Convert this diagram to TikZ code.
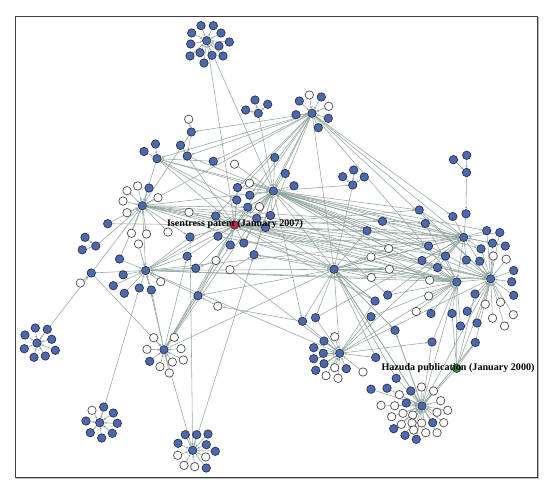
\documentclass[tikz,border=0pt]{standalone}
\usepackage{fontspec}
\setmainfont{Liberation Serif}
\usetikzlibrary{arrows.meta}
\definecolor{nblue}{HTML}{4A69B4}
\definecolor{edgec}{HTML}{93A69F}
\definecolor{nred}{HTML}{D8204C}
\definecolor{ngreen}{HTML}{3A9A3A}
\pgfdeclarelayer{bg}
\pgfsetlayers{bg,main}
\tikzset{
 nd/.style={circle, minimum size=8.4pt, inner sep=0pt, line width=0.7pt, draw=black!80},
 bn/.style={nd, fill=nblue},
 wn/.style={nd, fill=white, draw=black!70},
 ed/.style={draw=edgec, line width=0.55pt, -{Stealth[length=2.6pt,width=2.2pt]}},
 lab/.style={font=\fontsize{10.1}{11}\selectfont\bfseries, inner sep=0pt},
}
\begin{document}
\begin{tikzpicture}[x=1pt,y=-1pt]
\useasboundingbox (0,0) rectangle (545,486);
\draw[gray!55, line width=2pt] (538,17) -- (538,478) -- (16,478);
\draw[black!75, line width=0.9pt] (15,16) rectangle (537,477);
% blue nodes
\foreach \n/\x/\y in {t0/206.7/40.7, t1/201/25.7, t2/213.3/25.7, t3/191.7/33, t4/221/33, t5/229.3/42, t6/190.7/44, t7/219/46, t8/200/52.7, t9/212/55.3, t10/190/56, t11/223/56, t12/204/63,
 s0/258.3/113.3, s1/255/100, s2/245.7/110, s3/267.7/104.3,
 c0/312/113.3, c2/321.3/97, c3/299.3/101, c5/296/114.7, c6/328.3/118.3, c7/318.3/127.7,
 a2/191.3/132, a3/180.5/145.3, a4/187.2/156, a5/213.3/161.3,
 l3/157/158.7, l3a/155.5/144, l3b/144/151.5,
 l1/142.3/205.7, l1a/149/188, b1/107.7/223.7, b3/215.7/216,
 h/273.3/191, h1/274.7/157.5, h2/285.3/173.5, h3/294/185.8,
 d1/237.5/187.5, d3/249.8/195.2, d4/236.7/200, d5/247.8/207.2, d7/270.5/215.5, d8/256.7/218.3, d9/265.5/227.5,
 e5/190/237, e6/218/236.2, e7/230.3/245, e8/243.8/243, e9/254/254.7, e12/187.2/256.2, e13/195.7/268.2,
 f1/85/237.3, f2/82.2/249.8, f3/95.8/246, f4/119.5/259, f5/91.3/273, f7/123.2/274.8, f8/113.3/285.7, f9/124.3/293.3, l2/145.7/270.5, f10/139.3/288, f11/151.3/290,
 g1/198/295.7, p0/164/349.8, p5/149.7/361.3,
 q0/37/343, q1/35.3/328, q2/47.3/329.3, q3/25/335, q4/51.7/339.3, q5/24.3/348.7, q6/55.3/350.3, q7/34/357.3, q8/45.3/356,
 u0/99.7/422.7, u2/103.7/407, u3/113.3/413, u4/86/421, u5/117.3/423.3, u6/90.3/432.7, u7/101.7/438, u8/112.3/433.3,
 v0/192.7/450.3, v1/185.3/434.7, v2/196.7/434.7, v3/208/434, v4/178/443.3, v5/206.3/444.7, v6/215.3/451.3, v11/206.3/468,
 m/334/269.3, k1/367/230.7, k2/382.5/221.3,
 s20/352.7/185, s21/353.7/170, s22/342.7/176.7, s23/364.3/177,
 o1/302.5/321.3, o2/315.5/317.7, o3/375/301, o4/387.7/295, o5/371/316.7, o6/395/330.3, o8/431/313.5, o9/452/313.5, o10/467.2/311.3, o11/460.5/326, o12/477/323, o13/432/342, o14/475.3/342.5,
 r1/453.5/159.7, r2/466.7/155.3, r3/466.5/172.5, r4/466/213.8, r5/452.8/216.5, ra/463.7/237.3, r6/419.2/210, r7/425.3/223.5, r8/486.7/230.7, r9/499.8/232.5, r10/492.5/243.2, r11/505.3/246, r12/481/248.8, r13/428.5/246, r14/445.5/256, r15/422/260.5, r16/437.5/267.5, r17/466.3/260, r18/479.7/261.2, r21/513.7/270.5, r22/511.7/281.8, r23/513.7/295.3, rb/456.8/282, rc/490.7/278.8, r26/475/294,
 k0/339.7/353.3, ka/324/341, kc/313.7/347.7, kd/323.3/353.3, ke/313.7/358.7, kf/324/363.7, kg/315.7/370.3, ki/346.3/368.7,
 x1/375.7/357.5, x3/396.2/378.3,
 w0/422/406, w1/371/389.2, w2/387/388.2, w3/410.8/391, w9/406.3/403, w16/432.7/422.7, w21/393.7/428.7, w22/405/435.3, w23/416.3/439.3}
 \node[bn] (\n) at (\x,\y) {};
% white nodes
\foreach \n/\x/\y in {c1/309.3/95, c4/328.7/106.3, a1/188.7/119.3, a6/234.5/164.2,
 l1b/137.7/186, l1c/127/190.7, l1d/123/201, l1e/127/212.7, l1f/158/197.7, b2/189/212.3,
 d2/249.5/183.2, d6/259.5/206.7,
 e1/168/232, e2/131.5/233.3, e3/146.5/234, e4/138.5/244, e10/230/269.7, e11/216/260.5,
 f6/80.3/283, f12/160.7/281.7, g2/217.8/306.2,
 p1/153.7/337.7, p2/174.3/337.3, p3/147/349.3, p4/181/348.7, p6/160/366.7, p7/172.3/362, p8/183.3/360, p9/169.3/373,
 u1/92/410.3, v7/177.7/455.3, v8/205.7/457, v9/184/465.3, v10/194.7/466.7,
 k3/388.7/248.5, k4/371/257, k5/389.3/269.3, k6/371.3/277.5, o7/416.2/311.5,
 r19/493.2/256, r20/506.2/259.2, r24/429.7/280.2, r25/428.7/296, r27/485.3/304.2, r28/500.5/302.2, r29/513.3/314.7, r30/492.5/318.2, r31/504.5/326,
 kb/334.7/336.7, kh/334.7/367.7, kj/326/375.7, kk/338/378.3, x2/363/372,
 w4/421.5/387, w5/433.5/391, w6/399.3/394.7, w7/381/405.3, w8/394.7/405.7, w10/440.7/400.7, w11/437/412.3, w12/447.7/410.3, w13/391.7/416.7, w14/403/413.3, w15/412.7/415, w17/443.7/422.7, w18/401.3/424.3, w19/412/423, w20/421.7/423, w24/413.7/430, w25/425.7/432.7, w26/437/432.7}
 \node[wn] (\n) at (\x,\y) {};
\node[nd, fill=nred] (I) at (234.5,225) {};
\node[nd, fill=ngreen] (Z) at (456.7,368.3) {};
\begin{pgfonlayer}{bg}
% star edges
\foreach \a/\b in {t1/t0,t2/t0,t3/t0,t4/t0,t5/t0,t6/t0,t7/t0,t8/t0,t9/t0,t10/t0,t11/t0,t12/t0,
 s1/s0,s2/s0,s3/s0, c1/c0,c2/c0,c3/c0,c4/c0,c5/c0,c6/c0,c7/c0,
 a1/a2,a2/a4,a3/a4, l3a/l3,l3b/l3, l1a/l1,l1b/l1,l1c/l1,l1d/l1,l1e/l1,l1f/l1,
 h1/h,h2/h,h3/h, s21/s20,s22/s20,s23/s20, r1/r3,r2/r3,r3/r4,r4/ra,r5/ra,
 p1/p0,p2/p0,p3/p0,p4/p0,p5/p0,p6/p0,p7/p0,p8/p0,p9/p0,
 q1/q0,q2/q0,q3/q0,q4/q0,q5/q0,q6/q0,q7/q0,q8/q0,
 u1/u0,u2/u0,u3/u0,u4/u0,u5/u0,u6/u0,u7/u0,u8/u0,
 v1/v0,v2/v0,v3/v0,v4/v0,v5/v0,v6/v0,v7/v0,v8/v0,v9/v0,v10/v0,v11/v0,
 ka/k0,kb/k0,kc/k0,kd/k0,ke/k0,kf/k0,kg/k0,kh/k0,ki/k0,kj/k0,kk/k0,
 w1/w0,w2/w0,w3/w0,w4/w0,w5/w0,w6/w0,w7/w0,w8/w0,w9/w0,w10/w0,w11/w0,w12/w0,w13/w0,w14/w0,w15/w0,w16/w0,w17/w0,w18/w0,w19/w0,w20/w0,w21/w0,w22/w0,w23/w0,w24/w0,w25/w0,w26/w0}
 \draw[ed] (\a) -- (\b);
% long edges
\foreach \a/\b in {t0/I, t0/h, s0/h,
 c0/h, c0/d1, c0/d3, c0/I, c0/l3, c0/a4, c0/l1, c0/m, c0/ra, c0/r5, c0/rc, c0/d7, c0/e8, c0/a5, c0/b3, c0/a2, c0/rb,
 a5/l3, a6/h, a4/h, a4/I, l3/h, l3/I, l3/l1, l3/m, l3/d4, a2/l1,
 l1/I, l1/h, l1/m, l1/d5, l1/e5, b1/l1, f4/l1, l1/l2, e1/l1, l1/ra, l1/rb, l1/d9, l1/r13,
 b1/I, b2/I, b3/I, b2/l1,
 d1/h, d2/h, d3/h, d4/I, d5/h, d6/h, d7/h, d8/I, d9/I, d1/I,
 I/h, I/m, I/ra, I/rb, I/rc, I/l2, I/e5, I/k1, I/r6, I/r13, I/r14, I/r15,
 h/m, h/ra, h/rb, h/rc, h/k1, h/k2, h/r6, h/r13, h/e9, h/l2, h/o1, h/r24, h/r7, s20/m, h/s20, h/r8, h/r12, h/r14, h/r16,
 e2/l1, e3/l1, e4/l2, e5/l2, e5/v0, e6/I, e7/I, e8/I, e8/h, e9/h, e10/e9, e11/e13, e12/l2, e12/I, e13/l2, e13/h,
 f1/f3, f2/f3, f3/l1, f4/l2, f6/f5, f5/l2, f5/l1, f5/p0, q0/f5,
 f7/l2, f8/l2, f9/l2, f10/l2, f11/l2, f12/l2,
 g1/l2, g1/p0, g1/I, g2/g1, o1/g2,
 p0/l2, p0/I, p0/h, p0/m, p0/e7, p0/f11, p0/d5, p0/e12,
 u0/f10, v0/p0, v0/e9,
 m/ra, m/rb, m/rc, m/k0, m/w0, m/o1, m/o3, m/k3, m/k4, m/k5, m/k6, m/r13, m/r16, m/o6, l2/m, m/e9, m/g1,
 k1/h, k1/m, k2/h, k2/ra, k3/ra, k5/rb, k3/h, k4/I, k6/l2, k2/I, k1/ra, k2/rc, k4/rb, k6/rc,
 o1/k0, o2/k0, o2/m, o3/m, o3/k0, o4/rb, o4/ra, o5/k0, o6/w0, o6/m, o7/rb, o8/rb, o9/rb, o10/rc, o11/rb, o12/rc, o13/w0, o13/rb, o14/w0, o14/rc, o5/rb, o4/h, o3/I, o2/ra,
 r6/ra, r7/ra, r8/ra, r9/ra, r10/ra, r11/ra, r12/ra, r13/ra, r14/ra, r15/rb, r16/rb, r17/ra, r18/rc,
 r19/rc, r20/rc, r21/rc, r22/rc, r23/rc, r24/rb, r25/rb, r26/rc, r27/rc, r28/rc, r29/rc, r30/rc, r31/rc,
 r14/rb, r12/rc, r17/rc, r8/rc, r9/rc, r10/rc, r15/ra, r16/ra, r6/rc, r7/rb,
 ra/rb, ra/rc, rb/rc,
 k0/rb, k0/rc, k0/o13, k0/l2, k0/e10, k0/ra, x1/k0, x1/m, x2/k0, x3/w0, x3/m,
 Z/w0, Z/rb, Z/rc, Z/o14, Z/r26, Z/o9,
 w0/rb, w0/rc, w0/o6, w0/m, w0/o14,
 l1/r7, l2/rb, l2/ra, e6/rb, d8/rc, l3/ra, e8/ra, e9/rb, d9/rc}
 \draw[ed] (\a) -- (\b);
\end{pgfonlayer}
\node[lab] at (235,224) {Isentress patent (January 2007)};
\node[lab] at (458,368.3) {Hazuda publication (January 2000)};
\end{tikzpicture}
\end{document}
